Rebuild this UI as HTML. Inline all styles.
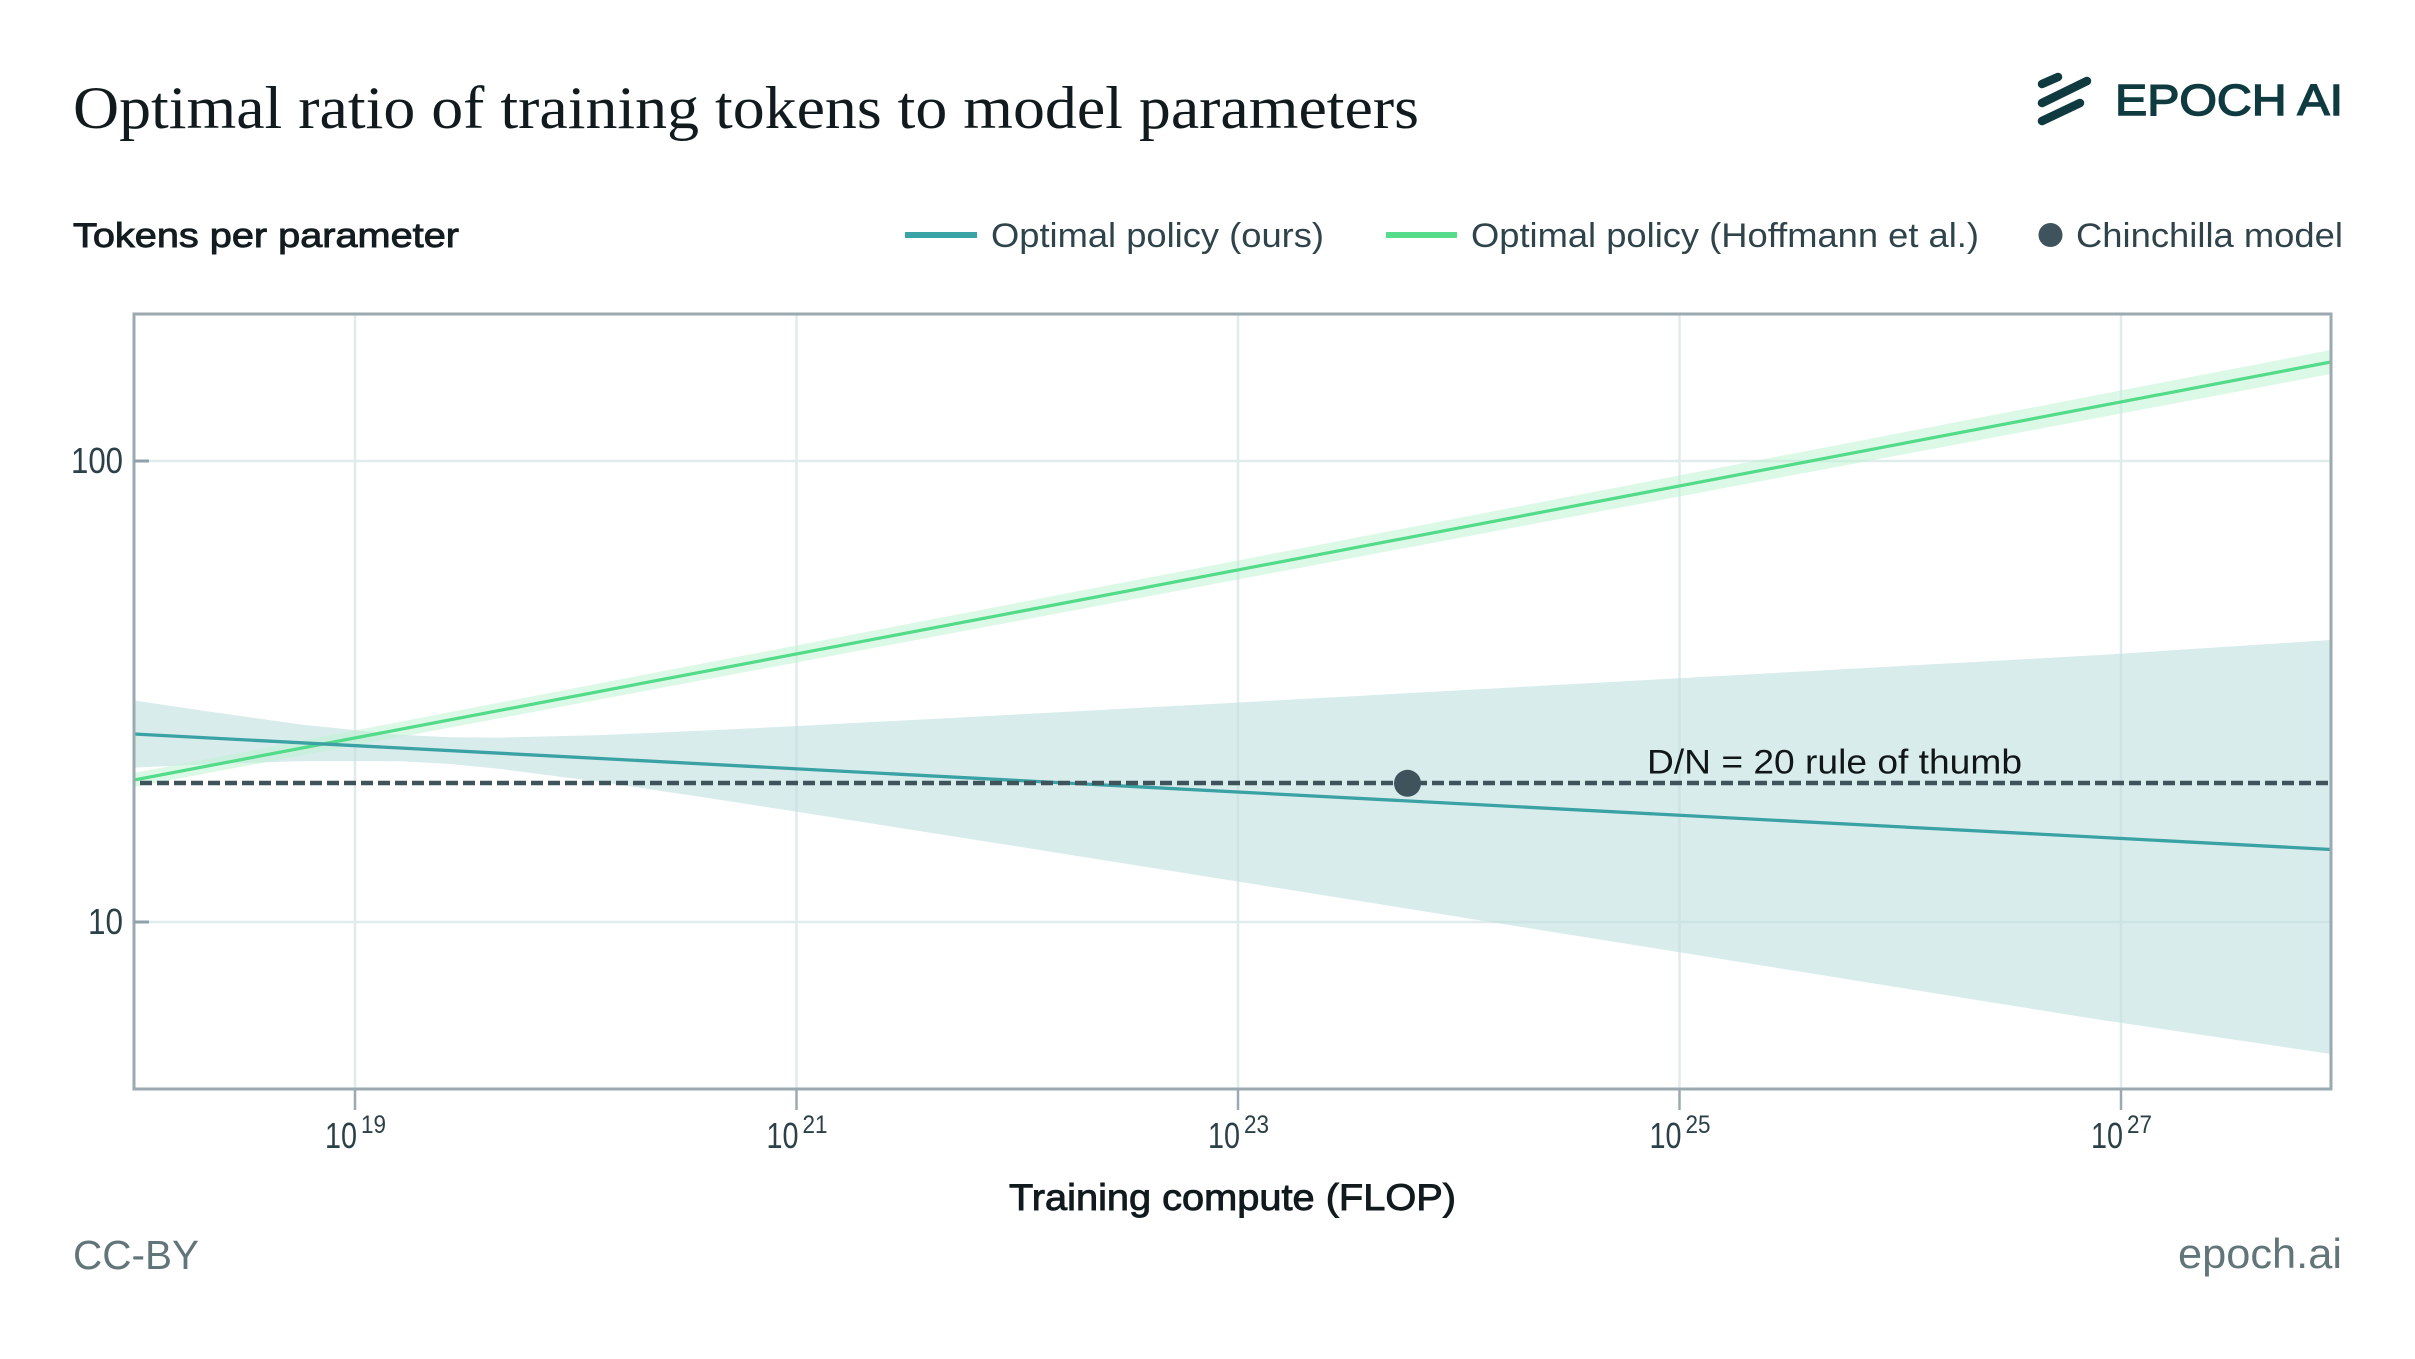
<!DOCTYPE html>
<html>
<head>
<meta charset="utf-8">
<style>
html,body{margin:0;padding:0;background:#fff;}
svg{display:block;}
text{font-family:"Liberation Sans",sans-serif;}
</style>
</head>
<body>
<svg width="2415" height="1359" viewBox="0 0 2415 1359" xmlns="http://www.w3.org/2000/svg">
<rect x="0" y="0" width="2415" height="1359" fill="#ffffff"/>

<!-- Title -->
<text x="73" y="128" font-size="60" fill="#111b1e" textLength="1346" lengthAdjust="spacingAndGlyphs" style="font-family:'Liberation Serif',serif">Optimal ratio of training tokens to model parameters</text>

<!-- Logo -->
<g stroke="#0e3a40" stroke-width="8.5" stroke-linecap="round" fill="none">
<line x1="2042" y1="84" x2="2058" y2="77"/>
<line x1="2042" y1="103" x2="2087" y2="81"/>
<line x1="2042" y1="121" x2="2080" y2="103"/>
</g>
<text x="2115" y="115" font-size="44" fill="#0e3a40" stroke="#0e3a40" stroke-width="1.4" textLength="228" lengthAdjust="spacingAndGlyphs">EPOCH AI</text>

<!-- Y axis title -->
<text x="73" y="247" font-size="34" fill="#131d20" stroke="#131d20" stroke-width="0.9" textLength="386" lengthAdjust="spacingAndGlyphs">Tokens per parameter</text>

<!-- Legend -->
<rect x="905" y="232" width="72" height="6" fill="#3aa3a5"/>
<text x="991" y="247" font-size="34" fill="#2f444a" textLength="333" lengthAdjust="spacingAndGlyphs">Optimal policy (ours)</text>
<rect x="1386" y="232" width="71" height="6" fill="#56dc8a"/>
<text x="1471" y="247" font-size="34" fill="#2f444a" textLength="508" lengthAdjust="spacingAndGlyphs">Optimal policy (Hoffmann et al.)</text>
<circle cx="2050.5" cy="235" r="12" fill="#3e535b"/>
<text x="2076" y="247" font-size="34" fill="#2f444a" textLength="267" lengthAdjust="spacingAndGlyphs">Chinchilla model</text>

<defs>
<clipPath id="plot"><rect x="134" y="314" width="2197" height="775"/></clipPath>
</defs>

<!-- Gridlines -->
<g stroke="#e0ecec" stroke-width="2.5">
<line x1="355" y1="314" x2="355" y2="1089"/>
<line x1="796.5" y1="314" x2="796.5" y2="1089"/>
<line x1="1238" y1="314" x2="1238" y2="1089"/>
<line x1="1679.5" y1="314" x2="1679.5" y2="1089"/>
<line x1="2121" y1="314" x2="2121" y2="1089"/>
<line x1="134" y1="461" x2="2331" y2="461"/>
<line x1="134" y1="922" x2="2331" y2="922"/>
</g>

<g clip-path="url(#plot)">
<polygon fill="#bfe0df" fill-opacity="0.6" points="134,700.4 200,710.3 300,724.4 400,734.8 450,737.2 500,737.6 600,735.1 700,730.8 800,725.9 1000,715.4 1200,704.6 1500,688.1 1800,671.6 2100,655.0 2331,640 2331,1054 2100,1019.8 1800,971.6 1500,923.5 1200,875.5 1000,843.7 800,812.2 700,796.8 600,781.9 500,768.9 450,764.0 400,761.2 300,761.1 200,764.6 134,767.6"/>
<polygon fill="#bff2d3" fill-opacity="0.55" points="134,773 2331,350 2331,374 134,787"/>
<line x1="134" y1="780" x2="2331" y2="362" stroke="#52db88" stroke-width="3.2"/>
<line x1="134" y1="734" x2="2331" y2="849.5" stroke="#3aa2a4" stroke-width="3.3"/>
<line x1="140" y1="783" x2="2331" y2="783" stroke="#3f535b" stroke-width="4.5" stroke-dasharray="12 5"/>
<circle cx="1407.5" cy="783.3" r="13.5" fill="#3e535b"/>
</g>

<text x="1647" y="773.5" font-size="34" fill="#111617" textLength="375" lengthAdjust="spacingAndGlyphs">D/N = 20 rule of thumb</text>

<rect x="134" y="314" width="2197" height="775" fill="none" stroke="#9aaab0" stroke-width="3"/>

<g stroke="#8fa1a8" stroke-width="3">
<line x1="134" y1="461" x2="149" y2="461"/>
<line x1="134" y1="922" x2="149" y2="922"/>
</g>
<text x="123" y="473" font-size="36" fill="#2b4047" text-anchor="end" textLength="52" lengthAdjust="spacingAndGlyphs">100</text>
<text x="123" y="934" font-size="36" fill="#2b4047" text-anchor="end" textLength="35" lengthAdjust="spacingAndGlyphs">10</text>

<g stroke="#9aaab0" stroke-width="2.5">
<line x1="355" y1="1089" x2="355" y2="1110"/>
<line x1="796.5" y1="1089" x2="796.5" y2="1110"/>
<line x1="1238" y1="1089" x2="1238" y2="1110"/>
<line x1="1679.5" y1="1089" x2="1679.5" y2="1110"/>
<line x1="2121" y1="1089" x2="2121" y2="1110"/>
</g>
<g fill="#2b4047">
<text x="325" y="1148" font-size="36" textLength="32" lengthAdjust="spacingAndGlyphs">10</text>
<text x="361" y="1133" font-size="25" textLength="25" lengthAdjust="spacingAndGlyphs">19</text>
<text x="766.5" y="1148" font-size="36" textLength="32" lengthAdjust="spacingAndGlyphs">10</text>
<text x="802.5" y="1133" font-size="25" textLength="25" lengthAdjust="spacingAndGlyphs">21</text>
<text x="1208" y="1148" font-size="36" textLength="32" lengthAdjust="spacingAndGlyphs">10</text>
<text x="1244" y="1133" font-size="25" textLength="25" lengthAdjust="spacingAndGlyphs">23</text>
<text x="1649.5" y="1148" font-size="36" textLength="32" lengthAdjust="spacingAndGlyphs">10</text>
<text x="1685.5" y="1133" font-size="25" textLength="25" lengthAdjust="spacingAndGlyphs">25</text>
<text x="2091" y="1148" font-size="36" textLength="32" lengthAdjust="spacingAndGlyphs">10</text>
<text x="2127" y="1133" font-size="25" textLength="25" lengthAdjust="spacingAndGlyphs">27</text>
</g>

<text x="1009" y="1210" font-size="37" fill="#111a1d" stroke="#111a1d" stroke-width="0.9" textLength="447" lengthAdjust="spacingAndGlyphs">Training compute (FLOP)</text>

<text x="73" y="1269" font-size="41" fill="#627579" textLength="126" lengthAdjust="spacingAndGlyphs">CC-BY</text>
<text x="2178" y="1268" font-size="42" fill="#627579" textLength="164" lengthAdjust="spacingAndGlyphs">epoch.ai</text>
</svg>
</body>
</html>
